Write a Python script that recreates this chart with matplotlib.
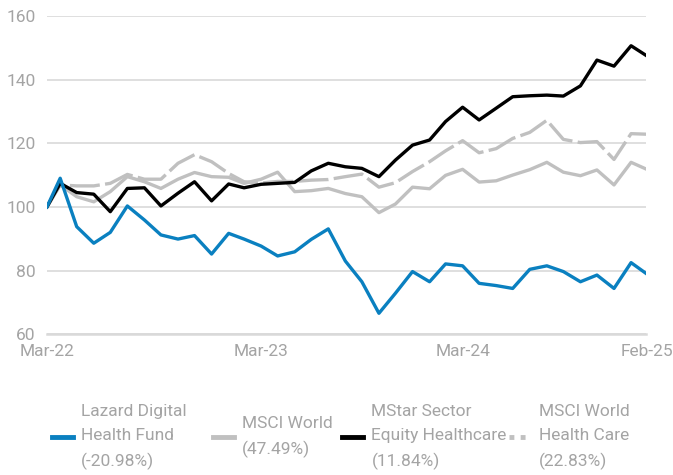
import matplotlib
matplotlib.use("Agg")
import matplotlib.pyplot as plt
from matplotlib.lines import Line2D
import pandas as pd

# first point is the start date, then month ends Mar-22 .. Feb-25
dates = [pd.Timestamp("2022-03-07")] + list(pd.date_range("2022-03-31", "2025-02-28", freq="ME"))

lazard = [100, 109.0, 93.8, 88.6, 92.0, 100.3, 95.9, 91.2, 89.9, 91.0, 85.2, 91.7,
          89.9, 87.7, 84.6, 85.9, 89.8, 93.1, 83.0, 76.5, 66.6, 72.9, 79.7, 76.5,
          82.1, 81.5, 76.0, 75.3, 74.4, 80.4, 81.5, 79.7, 76.5, 78.6, 74.4, 82.5, 79.02]
msci_world = [100, 106.9, 103.2, 101.6, 104.8, 109.5, 107.9, 105.8, 108.7, 110.8, 109.5, 109.3,
              107.4, 108.7, 110.9, 104.8, 105.1, 105.8, 104.2, 103.2, 98.2, 100.9, 106.2, 105.7,
              109.9, 111.8, 107.8, 108.2, 110.0, 111.7, 114.0, 110.9, 109.8, 111.6, 106.9, 114.0, 111.84]
mstar = [100, 107.4, 104.5, 104.0, 98.5, 105.8, 106.0, 100.3, 104.3, 107.9, 101.9, 107.2,
         106.0, 107.1, 107.4, 107.7, 111.3, 113.7, 112.6, 112.1, 109.5, 114.7, 119.4, 121.0,
         126.8, 131.3, 127.3, 131.0, 134.6, 134.9, 135.1, 134.8, 138.0, 146.1, 144.2, 150.6, 147.49]
msci_hc = [100, 106.9, 106.6, 106.6, 107.4, 110.2, 108.7, 108.7, 113.7, 116.4, 114.2, 110.5,
           107.9, 107.5, 108.0, 108.0, 108.4, 108.6, 109.5, 110.3, 106.2, 107.6, 111.1, 114.2,
           117.6, 120.8, 117.0, 118.3, 121.5, 123.4, 127.2, 121.2, 120.2, 120.5, 114.9, 123.0, 122.83]

labels = ["Lazard Digital\nHealth Fund\n(-20.98%)",
          "MSCI World\n(47.49%)",
          "MStar Sector\nEquity Healthcare\n(11.84%)",
          "MSCI World\nHealth Care\n(22.83%)"]
tick_idx = [0, 13, 25, 36]
tick_labels = ["Mar-22", "Mar-23", "Mar-24", "Feb-25"]

BLUE = "#0a80c0"
GREY = "#c0c0c0"
TEXT = "#a4a4a4"
GRID = "#d9d9d9"

plt.rcParams["font.family"] = ["Roboto", "DejaVu Sans"]

fig = plt.figure(figsize=(6.73, 4.75), dpi=100)
ax = fig.add_axes([0.0698, 0.2962, 0.8908, 0.6705])

lw = 2.4
ax.plot(dates, msci_world, color=GREY, lw=lw, zorder=2)
ax.plot(dates, msci_hc, color=GREY, lw=lw, dashes=(9, 1.6), zorder=2)
ax.plot(dates, mstar, color="black", lw=lw, zorder=3)
ax.plot(dates, lazard, color=BLUE, lw=lw, zorder=4)

ax.set_xlim(dates[0], dates[-1])
ax.set_ylim(60, 160)
ax.set_yticks(range(60, 161, 20))
ax.set_xticks([dates[i] for i in tick_idx])
ax.set_xticklabels(tick_labels)

ax.grid(axis="y", color=GRID, lw=1.2)
ax.set_axisbelow(True)
for side in ["top", "right", "left"]:
    ax.spines[side].set_visible(False)
ax.spines["bottom"].set_color(GRID)
ax.spines["bottom"].set_linewidth(1.8)
ax.tick_params(length=0, colors=TEXT, labelsize=12.5)
ax.tick_params(axis="y", pad=8)
ax.tick_params(axis="x", pad=7)

# one legend per entry so each sits where the original puts it
handles = [Line2D([], [], color=BLUE, lw=3.5),
           Line2D([], [], color=GREY, lw=3.5),
           Line2D([], [], color="black", lw=3.5),
           Line2D([], [], color=GREY, lw=3.5, linestyle=(0, (1, 1.3)))]
legend_x = [0.077, 0.316, 0.508, 0.757]
for h, lab, x in zip(handles, labels, legend_x):
    leg = fig.legend([h], [lab], loc="center left", bbox_to_anchor=(x, 0.08),
                     frameon=False, fontsize=12.5, handlelength=1.2, handletextpad=0.5,
                     borderpad=0, borderaxespad=0)
    for t in leg.get_texts():
        t.set_color(TEXT)
        t.set_linespacing(1.7)

fig.savefig("out.png", dpi=100)
